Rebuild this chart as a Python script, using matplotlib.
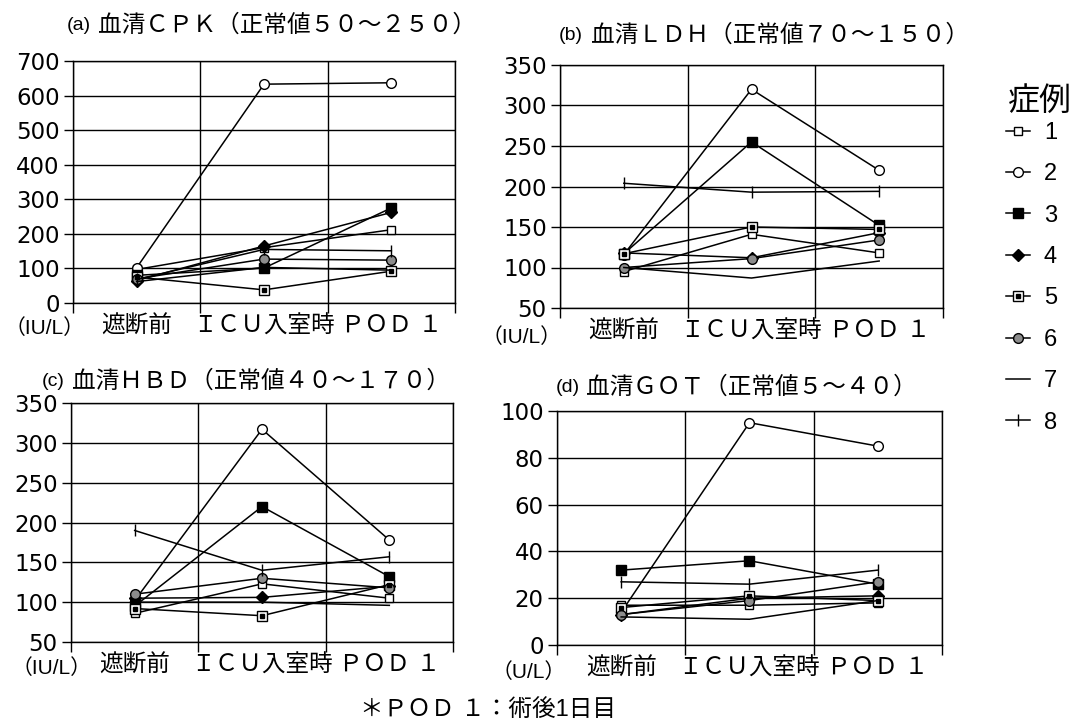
import matplotlib
matplotlib.use('Agg')
import matplotlib.pyplot as plt
from matplotlib.legend_handler import HandlerTuple

plt.rcParams['font.family'] = ['Liberation Sans', 'Noto Sans CJK JP', 'DejaVu Sans']

# ---------------- data ----------------
categories = ['遮断前', 'ＩＣＵ入室時', 'ＰＯＤ １']
case_labels = ['1', '2', '3', '4', '5', '6', '7', '8']

cpk = [
    [97, 160, 212],
    [102, 633, 637],
    [80, 101, 275],
    [65, 165, 262],
    [75, 38, 92],
    [70, 127, 124],
    [62, 103, 95],
    [68, 155, 151],
]
ldh = [
    [95, 141, 118],
    [116, 320, 220],
    [117, 255, 152],
    [118, 112, 143],
    [117, 150, 147],
    [100, 111, 134],
    [100, 87, 108],
    [204, 193, 194],
]
hbd = [
    [86, 123, 105],
    [102, 317, 178],
    [95, 220, 132],
    [105, 106, 120],
    [92, 83, 122],
    [110, 130, 118],
    [100, 100, 96],
    [190, 140, 157],
]
got = [
    [17, 17, 18],
    [14, 95, 85],
    [32, 36, 26],
    [13, 20, 21],
    [16, 21, 19],
    [13, 19, 27],
    [12, 11, 19],
    [27, 26, 32],
]

titles_prefix = ['(a)', '(b)', '(c)', '(d)']
titles_main = ['血清ＣＰＫ（正常値５０～２５０）',
               '血清ＬＤＨ（正常値７０～１５０）',
               '血清ＨＢＤ（正常値４０～１７０）',
               '血清ＧＯＴ（正常値５～４０）']
units = ['（IU/L）', '（IU/L）', '（IU/L）', '（U/L）']
yticks_list = [list(range(0, 701, 100)), list(range(50, 351, 50)),
               list(range(50, 351, 50)), list(range(0, 101, 20))]
datasets = [cpk, ldh, hbd, got]
legend_title = '症例'
footnote = '＊ＰＯＤ １：術後1日目'

# ---------------- styles ----------------
styles = [
    dict(marker='s', mfc='white', ms=6),
    dict(marker='o', mfc='white', ms=7),
    dict(marker='s', mfc='black', ms=7),
    dict(marker='D', mfc='black', ms=6),
    dict(marker='s', mfc='white', ms=7),
    dict(marker='o', mfc='0.55', ms=7),
    dict(marker='None'),
    dict(marker='|', ms=8),
]
overlay = {4: dict(marker='s', ms=2.5, mfc='black')}

W, H = 1081, 726
fig = plt.figure(figsize=(W / 100, H / 100), dpi=100)

def rect(l, t, r, b):
    return [l / W, 1 - b / H, (r - l) / W, (b - t) / H]

axes_px = [(73, 61, 455, 303), (560, 65, 943, 308),
           (71, 403, 453, 642), (557, 411, 942, 645)]
title_pos = [(67, 98, 26), (559, 591, 36), (42, 72, 381), (556, 586, 388)]
unit_pos = [(5, 328), (482, 337), (12, 668), (492, 672)]

legend_handles = []
for k, (data, box) in enumerate(zip(datasets, axes_px)):
    ax = fig.add_axes(rect(*box))
    x = list(range(len(categories)))
    for i, series in enumerate(data):
        st = styles[i]
        h, = ax.plot(x, series, color='black', lw=1.1, marker=st['marker'],
                     ms=st.get('ms', 6), mfc=st.get('mfc', 'black'),
                     mec='black', mew=1.0, zorder=3)
        hs = [h]
        if i in overlay:
            o = overlay[i]
            h2, = ax.plot(x, series, ls='none', marker=o['marker'], ms=o['ms'],
                          mfc=o['mfc'], mec='black', zorder=4)
            hs.append(h2)
        if k == 0:
            legend_handles.append(tuple(hs))
    yt = yticks_list[k]
    ax.set_ylim(yt[0], yt[-1])
    ax.set_yticks(yt, labels=[str(v) for v in yt], fontfamily='DejaVu Sans',
                  fontsize=16.5)
    ax.set_xlim(-0.5, len(categories) - 0.5)
    ax.set_xticks(x)
    ax.set_xticklabels(categories, fontsize=17)
    ax.set_xticks([i - 0.5 for i in range(len(categories) + 1)], minor=True)
    ax.tick_params(axis='x', which='major', length=0, pad=9)
    ax.tick_params(axis='x', which='minor', length=7, width=1.0, direction='out')
    ax.tick_params(axis='y', which='major', length=6.5, width=1.0, pad=3)
    ax.grid(axis='y', which='major', color='black', lw=1.0)
    ax.grid(axis='x', which='minor', color='black', lw=1.0)
    ax.set_axisbelow(True)
    for sp in ax.spines.values():
        sp.set_linewidth(1.0)
    tx0, tx1, ty = title_pos[k]
    fig.text(tx0, H - ty, titles_prefix[k], fontsize=14, ha='left',
             va='center', transform=None)
    fig.text(tx1, H - ty, titles_main[k], fontsize=17, ha='left',
             va='center', transform=None)
    ux, uy = unit_pos[k]
    fig.text(ux, H - uy, units[k], fontsize=15, ha='left', va='center',
             transform=None)

fig.text(1040, H - 102, legend_title, fontsize=23, ha='center', va='center',
         transform=None)
leg = fig.legend(legend_handles, case_labels,
                 handler_map={tuple: HandlerTuple(ndivide=1)},
                 loc='upper left', bbox_to_anchor=(1006 / W, 1 - 122 / H),
                 frameon=False, fontsize=17,
                 handlelength=1.0, handletextpad=0.6, labelspacing=0.82,
                 borderpad=0, borderaxespad=0)

fig.text(488, H - 710, footnote, fontsize=17, ha='center',
         va='center', transform=None)

fig.savefig('out.png', dpi=100)
